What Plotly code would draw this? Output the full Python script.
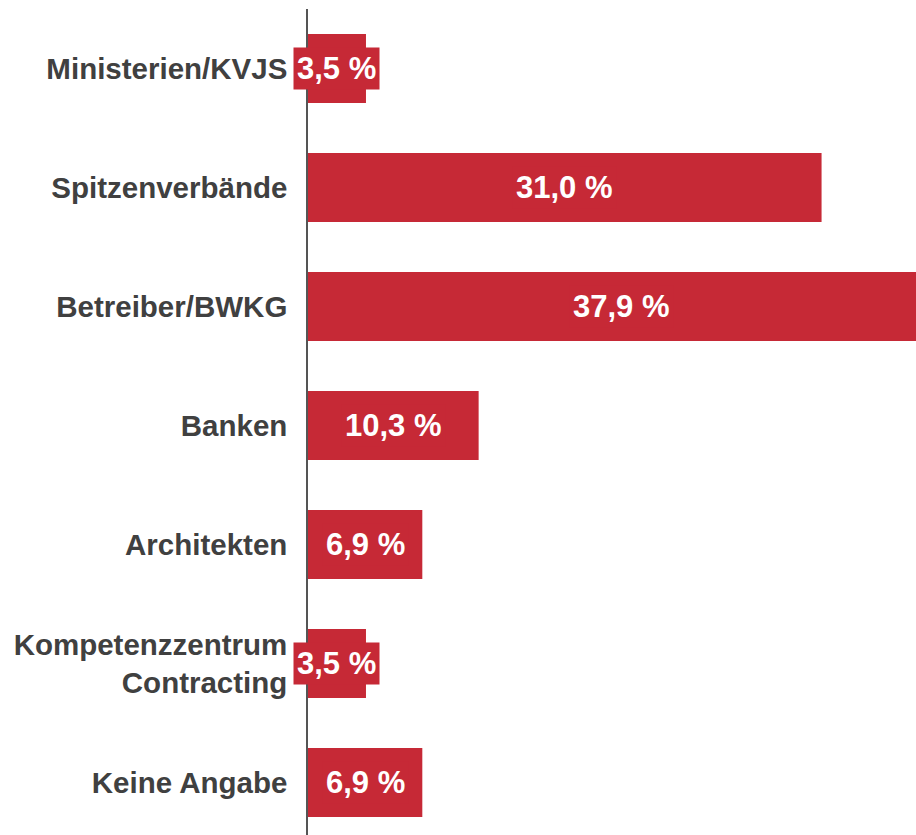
import plotly.graph_objects as go

categories = ["Ministerien/KVJS", "Spitzenverbände", "Betreiber/BWKG", "Banken",
              "Architekten", "Kompetenzzentrum<br>Contracting", "Keine Angabe"]
values = [3.5, 31.0, 37.9, 10.3, 6.9, 3.5, 6.9]
value_labels = ["3,5 %", "31,0 %", "37,9 %", "10,3 %", "6,9 %", "3,5 %", "6,9 %"]

RED = "#C62936"
FONT = "Liberation Sans, Arial, sans-serif"

pos = list(range(len(categories)))

fig = go.Figure(go.Bar(
    x=values, y=pos, orientation="h",
    marker=dict(color=RED, line=dict(width=0)),
    hoverinfo="skip",
))

for p, v, t in zip(pos, values, value_labels):
    fig.add_annotation(
        x=v / 2, y=p, xref="x", yref="y", text=f"<b>{t}</b>",
        showarrow=False, bgcolor=RED, borderpad=3,
        font=dict(family=FONT, size=31, color="white"),
    )

fig.update_layout(
    width=916, height=835,
    margin=dict(l=308, r=0, t=9, b=0),
    paper_bgcolor="white", plot_bgcolor="white",
    bargap=0.42, showlegend=False,
    xaxis=dict(range=[0, 36.7], visible=False, fixedrange=True),
    yaxis=dict(
        range=[6.441, -0.5],
        tickmode="array", tickvals=pos,
        ticktext=[f"<b>{c}</b>" for c in categories],
        tickfont=dict(family=FONT, size=29.5, color="#404040"),
        showline=True, linecolor="#555555", linewidth=1.5,
        showgrid=False, zeroline=False, ticks="",
        ticklabelstandoff=13,
    ),
)

fig.write_html(
    "out.html",
    config={"displayModeBar": False},
    post_script="document.body.style.margin='0';"
                "document.documentElement.style.overflow='hidden';"
                "document.body.style.overflow='hidden';",
)
